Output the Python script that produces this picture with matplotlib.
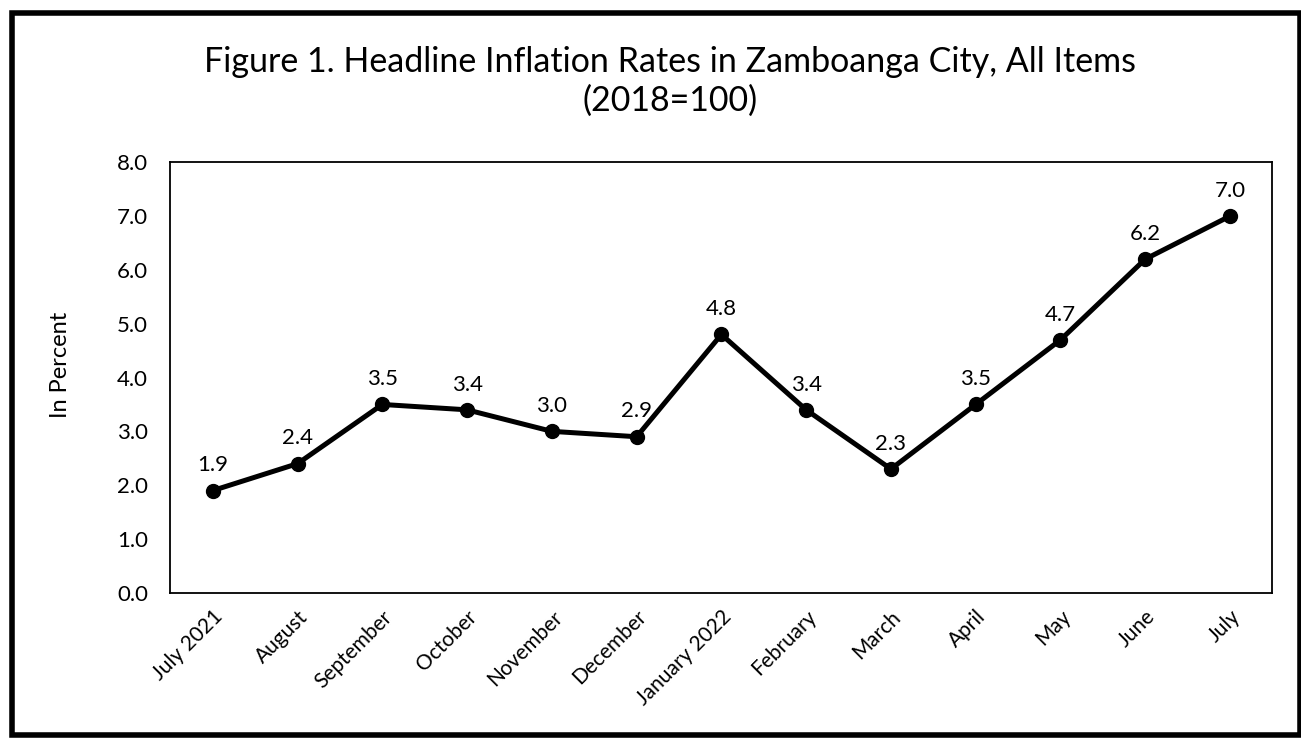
import matplotlib
matplotlib.use("Agg")
import matplotlib.pyplot as plt
from matplotlib.patches import Rectangle

months = ["July 2021", "August", "September", "October", "November", "December",
          "January 2022", "February", "March", "April", "May", "June", "July"]
rates = [1.9, 2.4, 3.5, 3.4, 3.0, 2.9, 4.8, 3.4, 2.3, 3.5, 4.7, 6.2, 7.0]
yticks = [0.0, 1.0, 2.0, 3.0, 4.0, 5.0, 6.0, 7.0, 8.0]

plt.rcParams['font.family'] = ['Lato', 'DejaVu Sans']

fig = plt.figure(figsize=(13.01, 7.41), dpi=100)
ax = fig.add_axes([0.131, 0.200, 0.847, 0.581])

x = list(range(len(months)))
ax.plot(x, rates, color='black', linewidth=3.6, marker='o', markersize=10, zorder=3)
for xi, v in zip(x, rates):
    ax.annotate(f"{v:.1f}", (xi, v), xytext=(0, 11), textcoords='offset points',
                ha='center', va='bottom', fontsize=16)

ax.set_xlim(-0.5, len(months) - 0.5)
ax.set_ylim(0, 8)
ax.set_yticks(yticks)
ax.set_yticklabels([f"{t:.1f}" for t in yticks], fontsize=16)
ax.set_xticks(x)
ax.set_xticklabels(months, rotation=45, ha='right', rotation_mode='anchor', fontsize=15)
ax.tick_params(axis='x', length=0, pad=10)
ax.tick_params(axis='y', length=0, pad=16)
for s in ax.spines.values():
    s.set_linewidth(1.3)
    s.set_color('black')
ax.set_ylabel("In Percent", fontsize=17)
ax.yaxis.set_label_coords(-0.09, 0.53)

fig.text(0.515, 0.916, "Figure 1. Headline Inflation Rates in Zamboanga City, All Items",
         ha='center', va='center', fontsize=24.5)
fig.text(0.515, 0.864, "(2018=100)", ha='center', va='center', fontsize=24.5)

fig.patches.append(Rectangle((0.009, 0.008), 0.99, 0.975, transform=fig.transFigure,
                             fill=False, edgecolor='black', linewidth=4))

fig.savefig("out.png", dpi=100)
